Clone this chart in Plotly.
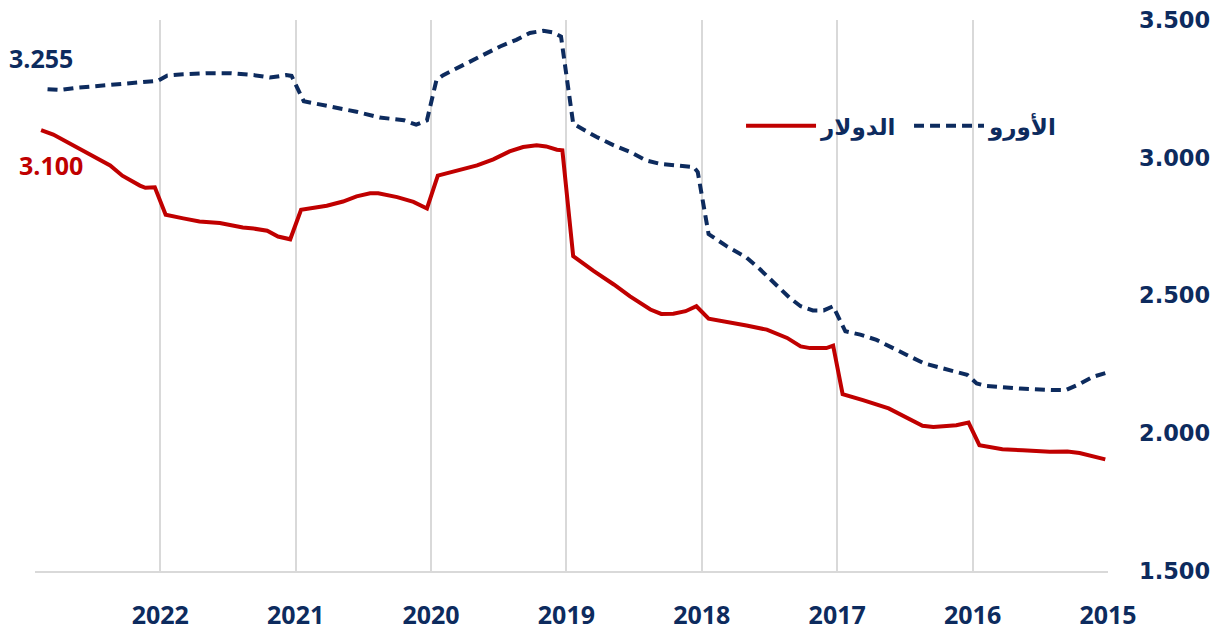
import plotly.graph_objects as go

# ---- data (x = fractional year, y = rate) ----
dollar_x = [2015.02, 2015.21, 2015.30, 2015.43, 2015.63, 2015.78, 2015.95,
            2016.03, 2016.12, 2016.19, 2016.29, 2016.37, 2016.54, 2016.62, 2016.81, 2016.96,
            2017.03, 2017.08, 2017.20, 2017.27, 2017.37, 2017.52, 2017.67, 2017.82, 2017.95,
            2018.04, 2018.12, 2018.21, 2018.30, 2018.38, 2018.53, 2018.65, 2018.80, 2018.95,
            2019.03, 2019.07, 2019.15, 2019.22, 2019.32, 2019.42, 2019.54, 2019.66, 2019.79, 2019.95,
            2020.03, 2020.13, 2020.25, 2020.39, 2020.45, 2020.55, 2020.65, 2020.77, 2020.96,
            2021.04, 2021.13, 2021.21, 2021.31, 2021.39, 2021.56, 2021.71, 2021.83, 2021.96,
            2022.04, 2022.11, 2022.15, 2022.28, 2022.37, 2022.47, 2022.64, 2022.79, 2022.88]
dollar_y = [1.905, 1.928, 1.934, 1.933, 1.938, 1.942, 1.957,
            2.039, 2.029, 2.028, 2.023, 2.027, 2.072, 2.090, 2.120, 2.142,
            2.318, 2.309, 2.309, 2.315, 2.346, 2.376, 2.391, 2.403, 2.416,
            2.461, 2.443, 2.434, 2.433, 2.449, 2.497, 2.540, 2.589, 2.643,
            3.027, 3.029, 3.041, 3.045, 3.039, 3.023, 2.994, 2.972, 2.954, 2.935,
            2.816, 2.840, 2.857, 2.871, 2.871, 2.860, 2.841, 2.826, 2.811,
            2.704, 2.714, 2.735, 2.743, 2.747, 2.763, 2.769, 2.780, 2.793,
            2.893, 2.891, 2.899, 2.935, 2.972, 2.999, 3.043, 3.084, 3.100]

euro_x = [2015.02, 2015.11, 2015.21, 2015.31, 2015.40, 2015.65, 2015.90, 2015.97,
          2016.04, 2016.14, 2016.24, 2016.36, 2016.49, 2016.59, 2016.71, 2016.83, 2016.94,
          2017.03, 2017.10, 2017.18, 2017.27, 2017.35, 2017.45, 2017.57, 2017.67, 2017.82, 2017.95,
          2018.03, 2018.06, 2018.19, 2018.31, 2018.41, 2018.53, 2018.65, 2018.78, 2018.95,
          2019.04, 2019.10, 2019.17, 2019.27, 2019.37, 2019.49, 2019.61, 2019.76, 2019.91, 2019.96,
          2020.03, 2020.11, 2020.20, 2020.38, 2020.55, 2020.67, 2020.82, 2020.94,
          2021.03, 2021.07, 2021.19, 2021.31, 2021.48, 2021.66, 2021.83, 2021.95,
          2022.02, 2022.15, 2022.32, 2022.47, 2022.62, 2022.74, 2022.86]
euro_y = [2.218, 2.205, 2.179, 2.157, 2.157, 2.162, 2.172, 2.181,
          2.212, 2.224, 2.236, 2.254, 2.285, 2.309, 2.339, 2.358, 2.370,
          2.461, 2.446, 2.446, 2.461, 2.491, 2.540, 2.595, 2.638, 2.680, 2.723,
          2.948, 2.966, 2.972, 2.978, 2.990, 3.021, 3.045, 3.076, 3.124,
          3.440, 3.455, 3.461, 3.453, 3.428, 3.404, 3.373, 3.337, 3.300, 3.282,
          3.136, 3.120, 3.136, 3.146, 3.167, 3.179, 3.193, 3.205,
          3.297, 3.300, 3.291, 3.300, 3.307, 3.307, 3.303, 3.298,
          3.279, 3.274, 3.266, 3.262, 3.254, 3.246, 3.250]

year_ticks = [2015, 2016, 2017, 2018, 2019, 2020, 2021, 2022]
year_labels = ["2015", "2016", "2017", "2018", "2019", "2020", "2021", "2022"]
y_ticks = [1.5, 2.0, 2.5, 3.0, 3.5]
y_labels = ["1.500", "2.000", "2.500", "3.000", "3.500"]

dollar_name = "الدولار"
euro_name = "الأورو"
dollar_last_label = "3.100"
euro_last_label = "3.255"

NAVY = "#0D2B5E"
RED = "#C00000"
GRID = "#D9D9D9"

fig = go.Figure()
fig.add_trace(go.Scatter(x=dollar_x, y=dollar_y, mode="lines", name=dollar_name,
                         line=dict(color=RED, width=4)))
fig.add_trace(go.Scatter(x=euro_x, y=euro_y, mode="lines", name=euro_name,
                         line=dict(color=NAVY, width=4, dash="10px,6px")))

fig.add_annotation(x=2022.883, y=3.362, text=euro_last_label, showarrow=False,
                   font=dict(family="Open Sans", size=25, color=NAVY, weight="bold"))
fig.add_annotation(x=2022.81, y=2.972, text=dollar_last_label, showarrow=False,
                   font=dict(family="Open Sans", size=25, color=RED, weight="bold"))

# the page body has an 8px default margin, so the figure is sized to fit the window
fig.update_layout(
    width=1221, height=625,
    margin=dict(l=27, r=121, t=12, b=62),
    plot_bgcolor="white", paper_bgcolor="white",
    showlegend=True,
    legend=dict(orientation="h", x=0.658, y=0.808, xanchor="left", yanchor="middle",
                font=dict(family="DejaVu Sans", size=23, color=NAVY, weight="bold"),
                itemwidth=70, entrywidth=83, entrywidthmode="pixels",
                bgcolor="rgba(0,0,0,0)"),
    xaxis=dict(range=[2022.925, 2015], tickvals=year_ticks, ticktext=year_labels,
               showgrid=True, gridcolor=GRID, gridwidth=2,
               showline=True, linecolor=GRID, linewidth=2,
               zeroline=False, ticks="", ticklabelstandoff=21, automargin=False,
               ticklabeloverflow="allow",
               tickfont=dict(family="Open Sans", size=25, color=NAVY, weight="bold")),
    yaxis=dict(range=[1.5, 3.5], side="right", tickvals=y_ticks, ticktext=y_labels,
               showgrid=False, zeroline=False, showline=False, ticks="",
               ticklabelstandoff=30, automargin=False, ticklabeloverflow="allow",
               tickfont=dict(family="DejaVu Sans", size=22.5, color=NAVY, weight="bold")),
)

fig.write_html("out.html")
